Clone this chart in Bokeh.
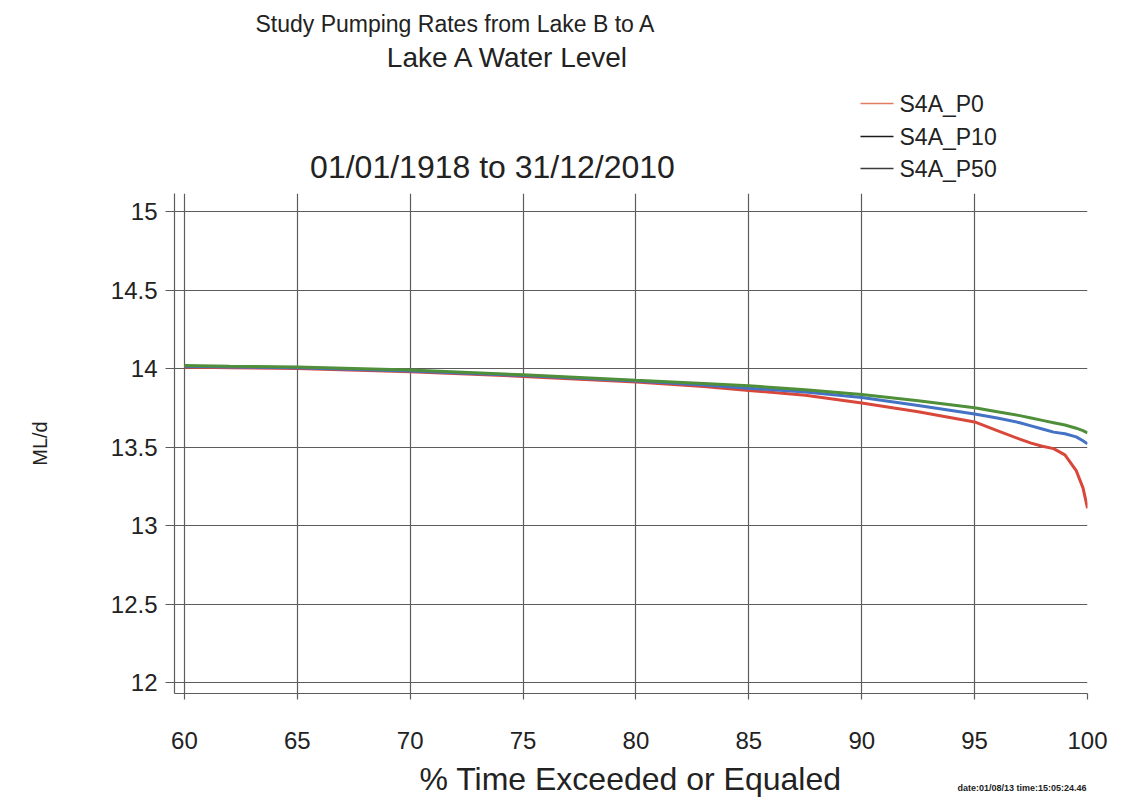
from bokeh.plotting import figure
from bokeh.models import Range1d, FixedTicker
from bokeh.layouts import column
from bokeh.core.properties import value
from bokeh.embed import file_html
from bokeh.resources import INLINE

# ---- data ----
pct_exceeded = [60, 62, 65, 70, 75, 80, 83, 85, 87.5, 90, 92.5, 95, 96, 97, 97.5, 98, 98.5, 99, 99.5, 99.8, 100]
s4a_p0 = [14.01, 14.005, 14.0, 13.98, 13.95, 13.915, 13.885, 13.86, 13.83, 13.78, 13.725, 13.66, 13.605, 13.55,
          13.525, 13.505, 13.49, 13.45, 13.35, 13.24, 13.11]
s4a_p10 = [14.015, 14.01, 14.005, 13.985, 13.955, 13.92, 13.895, 13.875, 13.85, 13.815, 13.765, 13.71, 13.685,
           13.655, 13.635, 13.615, 13.595, 13.585, 13.565, 13.54, 13.52]
s4a_p50 = [14.02, 14.015, 14.01, 13.99, 13.96, 13.925, 13.905, 13.89, 13.865, 13.835, 13.795, 13.75, 13.725,
           13.70, 13.685, 13.67, 13.655, 13.64, 13.62, 13.605, 13.59]
series_names = ["S4A_P0", "S4A_P10", "S4A_P50"]
x_ticks = [60, 65, 70, 75, 80, 85, 90, 95, 100]
y_ticks = [12, 12.5, 13, 13.5, 14, 14.5, 15]
title_lines = ["Study Pumping Rates from Lake B to A", "Lake A Water Level", "01/01/1918 to 31/12/2010"]
x_title = "% Time Exceeded or Equaled"
y_title = "ML/d"
stamp = "date:01/08/13 time:15:05:24.46"

FONT = "Liberation Sans"
TXT = "#222222"
GRID = "#5c5c5c"
W = 1131
LEFT, RIGHT = 174, 1087   # frame left / right (px)
TOP = 193                 # frame top (px)
FOOT = 762                # footer start (px)


def blank(height, y0, y1):
    # frames in a column are aligned with the main frame, so x spans LEFT..RIGHT
    f = figure(width=W, height=height, output_backend="svg", toolbar_location=None,
               x_range=Range1d(LEFT, RIGHT), y_range=Range1d(y1, y0),
               x_axis_location=None, y_axis_location=None,
               min_border_left=LEFT, min_border_right=W - RIGHT, min_border_top=0, min_border_bottom=0)
    f.outline_line_color = None
    f.grid.visible = False
    f.background_fill_color = "white"
    f.border_fill_color = "white"
    return f


def txt(f, s, x, y, size, align="center", style="normal"):
    f.text(x=[x], y=[y], text=[s], text_font=value(FONT), text_font_size=value(size),
           text_align=align, text_baseline="middle", text_color=TXT, text_font_style=style)


# ---- header: titles and legend ----
head = blank(TOP, 0, TOP)
txt(head, title_lines[0], 455, 23, "23px")
txt(head, title_lines[1], 508, 57, "28px")
txt(head, title_lines[2], 492, 166, "32px")

legend_colors = ["#e07b5f", "#1a1a1a", "#3c3c3c"]
legend_rows = [103, 136, 168]
head.segment(x0=[860] * 3, y0=legend_rows, x1=[893] * 3, y1=legend_rows,
             line_color=legend_colors, line_width=1.3)
for name, ry in zip(series_names, legend_rows):
    txt(head, name, 899, ry, "23px", align="left")

# ---- main chart ----
p = figure(width=W, height=FOOT - TOP, output_backend="svg", toolbar_location=None,
           x_range=Range1d(59.56, 100.0), y_range=Range1d(11.93, 15.115),
           min_border_left=LEFT, min_border_right=W - RIGHT, min_border_top=0,
           min_border_bottom=FOOT - 693)
p.outline_line_color = None
p.background_fill_color = "white"
p.border_fill_color = "white"

p.xgrid.ticker = FixedTicker(ticks=x_ticks)
p.ygrid.ticker = FixedTicker(ticks=y_ticks)
for g in (p.xgrid, p.ygrid):
    g.grid_line_color = GRID
    g.grid_line_width = 1.2

p.xaxis.ticker = FixedTicker(ticks=x_ticks)
p.yaxis.ticker = FixedTicker(ticks=y_ticks)
for ax in (p.xaxis, p.yaxis):
    ax.axis_line_color = GRID
    ax.axis_line_width = 1.2
    ax.major_tick_line_color = GRID
    ax.major_tick_line_width = 1.2
    ax.major_tick_in = 0
    ax.minor_tick_line_color = None
    ax.major_label_text_font = FONT
    ax.major_label_text_font_size = "24px"
    ax.major_label_text_color = TXT
    ax.axis_label_text_font = FONT
    ax.axis_label_text_font_style = "normal"
    ax.axis_label_text_color = TXT
p.xaxis.major_tick_out = 6
p.xaxis.major_label_standoff = 32
p.yaxis.major_tick_out = 9
p.yaxis.major_label_standoff = 8
p.yaxis.axis_label = y_title
p.yaxis.axis_label_text_font_size = "20px"
p.yaxis.axis_label_standoff = 57

p.line(pct_exceeded, s4a_p0, line_color="#d9473a", line_width=3)
p.line(pct_exceeded, s4a_p10, line_color="#4472c4", line_width=3)
p.line(pct_exceeded, s4a_p50, line_color="#4f8f3a", line_width=3)

# ---- footer: x title and time stamp ----
foot = blank(809 - FOOT, FOOT, 809)
txt(foot, x_title, 630, 778, "32px")
txt(foot, stamp, 1086, 787, "9px", align="right", style="bold")

layout = column(head, p, foot, spacing=0)
open("out.html", "w").write(file_html(layout, INLINE))
